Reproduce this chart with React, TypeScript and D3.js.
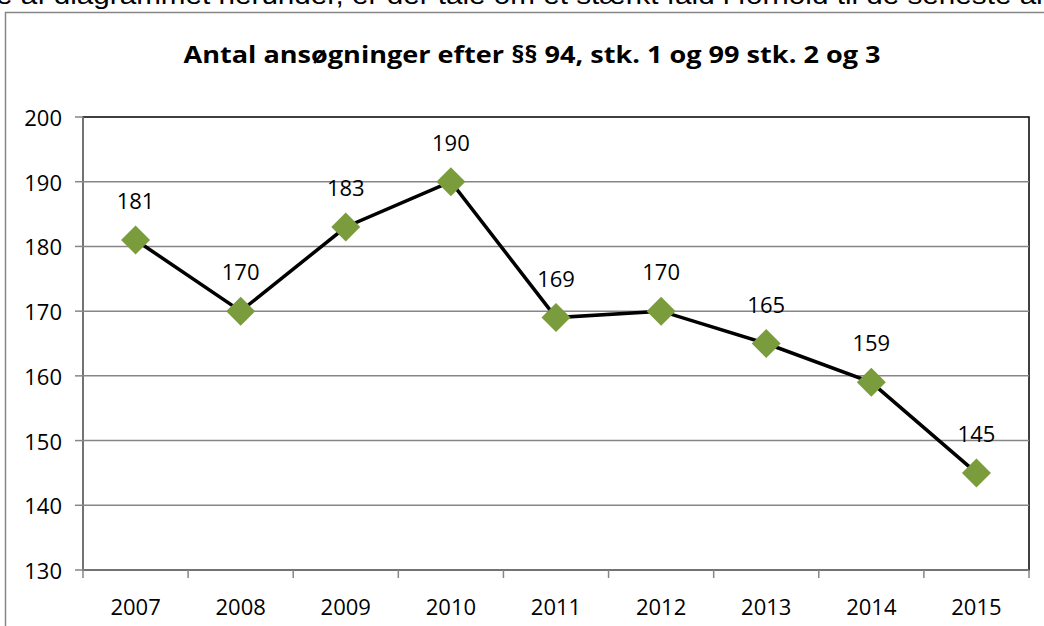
import * as d3 from "d3";

const years = ["2007", "2008", "2009", "2010", "2011", "2012", "2013", "2014", "2015"];
const applications = [181, 170, 183, 190, 169, 170, 165, 159, 145];
const yTicks = [130, 140, 150, 160, 170, 180, 190, 200];

const W = 1044;
const H = 626;
const plot = { left: 83, right: 1029, top: 117, bottom: 570 };
const font = "'Open Sans', sans-serif";

const App = () => {
  const x = d3.scaleBand<string>().domain(years).range([plot.left, plot.right]);
  const y = d3.scaleLinear().domain([130, 200]).range([plot.bottom, plot.top]);
  const cx = (i: number) => x(years[i])! + x.bandwidth() / 2;

  const line = d3
    .line<number>()
    .x((_, i) => cx(i))
    .y((d) => y(d));

  // square rotated 45° gives the diamond marker
  const diamond = d3.symbol().type(d3.symbolSquare).size(420);

  return (
    <svg
      width={W}
      height={H}
      style={{ position: "absolute", left: 0, top: 0, background: "#fff" }}
    >
      {/* cut-off line of body text above the chart */}
      <text
        x={-4}
        y={4}
        fontFamily="'Liberation Sans', Arial, sans-serif"
        fontSize={26}
        fill="#000"
        textLength={1050}
        lengthAdjust="spacingAndGlyphs"
      >
        e af diagrammet herunder, er der tale om et stærkt fald i forhold til de seneste år
      </text>

      {/* chart frame */}
      <rect x={5.5} y={12.5} width={W + 20} height={H} fill="#fff" stroke="#868686" strokeWidth={1.5} />

      <text
        x={532}
        y={63}
        textAnchor="middle"
        fontFamily={font}
        fontWeight="bold"
        fontSize={24}
        fill="#000"
        textLength={697}
        lengthAdjust="spacingAndGlyphs"
      >
        Antal ansøgninger efter §§ 94, stk. 1 og 99 stk. 2 og 3
      </text>

      {/* plot area border */}
      <rect
        x={plot.left}
        y={plot.top}
        width={plot.right - plot.left}
        height={plot.bottom - plot.top}
        fill="none"
        stroke="#000"
        strokeWidth={1.5}
      />

      {/* gridlines + y ticks */}
      {yTicks.map((t) => (
        <g key={t}>
          {t > 130 && t < 200 && (
            <line x1={plot.left} x2={plot.right} y1={y(t)} y2={y(t)} stroke="#868686" strokeWidth={1.5} />
          )}
          <line x1={plot.left - 8} x2={plot.left} y1={y(t)} y2={y(t)} stroke="#868686" strokeWidth={1.5} />
          <text
            x={62}
            y={y(t)}
            textAnchor="end"
            dominantBaseline="central"
            fontFamily={font}
            fontSize={22}
            fill="#000"
          >
            {t}
          </text>
        </g>
      ))}

      {/* axes */}
      <line x1={plot.left} x2={plot.left} y1={plot.top} y2={plot.bottom} stroke="#868686" strokeWidth={1.5} />
      <line x1={plot.left} x2={plot.right} y1={plot.bottom} y2={plot.bottom} stroke="#868686" strokeWidth={1.5} />

      {/* x ticks at band edges */}
      {years.map((yr) => (
        <line
          key={"t" + yr}
          x1={x(yr)!}
          x2={x(yr)!}
          y1={plot.bottom}
          y2={plot.bottom + 8}
          stroke="#868686"
          strokeWidth={1.5}
        />
      ))}
      <line x1={plot.right} x2={plot.right} y1={plot.bottom} y2={plot.bottom + 8} stroke="#868686" strokeWidth={1.5} />

      {years.map((yr, i) => (
        <text
          key={yr}
          x={cx(i)}
          y={606}
          textAnchor="middle"
          dominantBaseline="central"
          fontFamily={font}
          fontSize={22}
          fill="#000"
        >
          {yr}
        </text>
      ))}

      <path d={line(applications) ?? ""} fill="none" stroke="#000" strokeWidth={3.5} />

      {applications.map((v, i) => (
        <g key={i}>
          <path
            d={diamond() ?? ""}
            transform={`translate(${cx(i)},${y(v)}) rotate(45)`}
            fill="#7b9c3d"
          />
          <text
            x={cx(i)}
            y={y(v) - 40}
            textAnchor="middle"
            dominantBaseline="central"
            fontFamily={font}
            fontSize={22}
            fill="#000"
          >
            {v}
          </text>
        </g>
      ))}
    </svg>
  );
};

export default App;
